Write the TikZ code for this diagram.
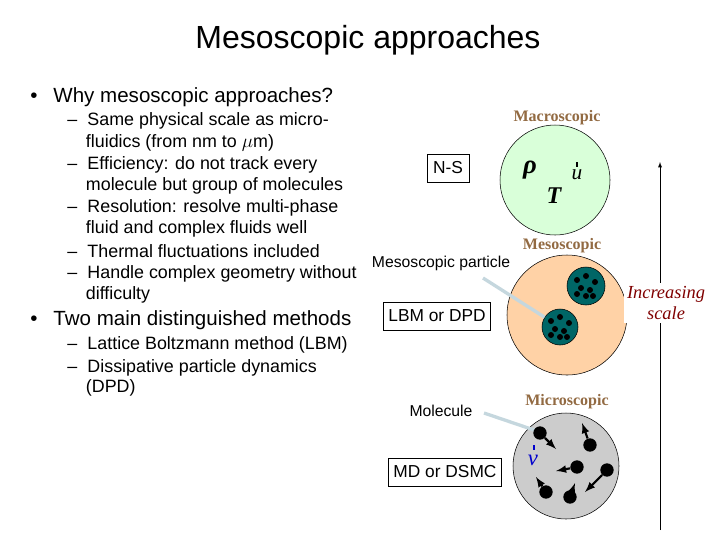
\documentclass[tikz,border=0pt]{standalone}
\usepackage{fontspec}
\usetikzlibrary{calc}
\setmainfont{Liberation Sans}
\newfontfamily\serifl{Liberation Serif}
\begin{document}
\begin{tikzpicture}[x=0.75pt,y=-0.75pt,
  txt/.style={anchor=west,inner sep=0,font=\fontsize{13.4}{14}\selectfont},
  bx/.style={draw,inner sep=0,minimum height=21pt,font=\fontsize{13}{14}\selectfont},
  lvl/.style={font=\serifl\bfseries\fontsize{12}{12}\selectfont,text=brown!70!black!90,inner sep=0},
  ptr/.style={line width=2.5pt,draw=cyan!30!gray!40},
  mol/.style={fill=black,circle,inner sep=0,minimum size=10pt},
  vel/.style={-latex,line width=1.6pt},
  dotb/.style={fill=black,circle,inner sep=0,minimum size=4.5pt}]
\useasboundingbox (0,0) rectangle (720,540);
\node[font=\fontsize{24}{26}\selectfont] (title) at (368,40) {Mesoscopic approaches};
\node[txt,font=\fontsize{15.4}{16}\selectfont] (b1) at (30,97) {•\hspace{12pt}Why mesoscopic approaches?};
\foreach \y/\t in {121/– \hspace{4pt}Same physical scale as micro-,143/\hspace{14pt}fluidics (from nm to $\mu$m),165/– \hspace{4pt}Efficiency: do not track every,186/\hspace{14pt}molecule but group of molecules,208/– \hspace{4pt}Resolution: resolve multi-phase,229/\hspace{14pt}fluid and complex fluids well,251/– \hspace{4pt}Thermal fluctuations included,274/– \hspace{4pt}Handle complex geometry without,295/\hspace{14pt}difficulty,345/– \hspace{4pt}Lattice Boltzmann method (LBM),368/– \hspace{4pt}Dissipative particle dynamics,388/\hspace{14pt}(DPD)}
  \node[txt] at (67,\y) {\t};
\node[txt,font=\fontsize{15.4}{16}\selectfont] (b2) at (30,320) {•\hspace{12pt}Two main distinguished methods};
% circles
\node[circle,draw,fill=green!15!white,minimum size=82.5pt,inner sep=0] (mac) at (555,180) {};
\node[circle,draw,fill=orange!35!white,minimum size=90pt,inner sep=0] (mes) at (567,315) {};
\node[circle,draw,fill=gray!40,minimum size=79.5pt,inner sep=0] (mic) at (566,466) {};
\node[lvl] (lmac) at (557,118) {Macroscopic};
\node[lvl] (lmes) at (562,246) {Mesoscopic};
\node[lvl] (lmic) at (567,402) {Microscopic};
\node[font=\serifl\bfseries\itshape\fontsize{20}{20}\selectfont] (rho) at (530,170) {ρ};
\node[font=\serifl\bfseries\itshape\fontsize{18}{18}\selectfont] (T) at (554,196) {T};
\node[font=\serifl\itshape\fontsize{16}{16}\selectfont] (u) at (577,175) {u};
\draw[line width=1pt] (577,162) -- (577,167);
% teal particles
\node[circle,draw,fill=teal!80!black,minimum size=28.5pt,inner sep=0] (p1) at (586,286) {};
\node[circle,draw,fill=teal!80!black,minimum size=27pt,inner sep=0] (p2) at (560,327) {};
\foreach \dx/\dy in {-9/-6,0/-10,9/-4,-5/2,4/4,0/10,7/10,-9/8}{
  \node[dotb] at ($(p1)+(\dx,\dy)$) {};
  \node[dotb] at ($(p2)+(\dx,\dy)$) {};}
% boxes
\node[bx,minimum width=31.5pt] (ns) at (448,168) {N-S};
\node[bx,minimum width=80pt] (lbm) at (437,316) {LBM or DPD};
\node[bx,minimum width=85pt] (md) at (445,472) {MD or DSMC};
\node[font=\fontsize{11.8}{12}\selectfont,inner sep=0] (mp) at (441,263) {Mesoscopic particle};
\node[font=\fontsize{11.8}{12}\selectfont,inner sep=0] (mo) at (441,411) {Molecule};
\draw[ptr] (483,278) -- (p2);
\draw[ptr] (484,413) -- (537,431);
% molecules
\foreach \n/\bx/\by/\ex/\ey in {m1/540/433/556/449,m2/590/445/582/423,m3/577/467/556/471,m4/607/470/585/492,m5/546/492/536/477,m6/570/497/575/483}{
  \node[mol] (\n) at (\bx,\by) {};
  \coordinate (\n e) at (\ex,\ey);
  \draw[vel] (\n) -- (\n e);}
\node[font=\serifl\itshape\fontsize{17}{17}\selectfont,text=blue!80!black] (v) at (533,460) {v};
\draw[blue!80!black,line width=1pt] (534,445) -- (534,450);
% scale arrow
\coordinate (abot) at (660,530);
\coordinate (atop) at (660,162);
\draw[-latex] (abot) -- (atop);
\node[fill=white,inner sep=2pt,align=center,font=\serifl\itshape\fontsize{13.8}{16}\selectfont,text=red!50!black] (inc) at (666,303) {Increasing\\scale};
\end{tikzpicture}
\end{document}
